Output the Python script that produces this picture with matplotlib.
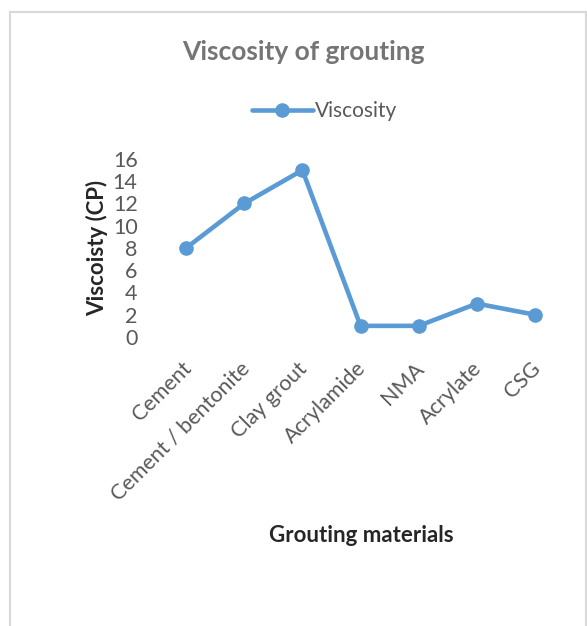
import matplotlib.pyplot as plt
from matplotlib.lines import Line2D
from matplotlib.transforms import ScaledTranslation

# Viscosity of the grouting materials (CP)
materials = ["Cement", "Cement / bentonite", "Clay grout", "Acrylamide",
             "NMA", "Acrylate", "CSG"]
viscosity = [8, 12, 15, 1, 1, 3, 2]
yticks = [0, 2, 4, 6, 8, 10, 12, 14, 16]

plt.rcParams['font.family'] = ['Lato', 'DejaVu Sans']

fig = plt.figure(figsize=(5.87, 6.26), dpi=100)
ax = fig.add_axes([0.2675, 0.4617, 0.6935, 0.2843])

xs = list(range(len(materials)))
ax.plot(xs, viscosity, color='#5B9BD5', linewidth=3.3, marker='o',
        markersize=9.5, label='Viscosity', solid_capstyle='round',
        solid_joinstyle='round')

ax.set_xlim(-0.5, len(materials) - 0.5)
ax.set_ylim(0, 16)
ax.set_yticks(yticks)
ax.set_yticklabels([str(v) for v in yticks], fontsize=15.5, color='#595959')
ax.set_xticks(xs)
ax.set_xticklabels(materials, rotation=45, ha='right', va='top',
                   rotation_mode='anchor', fontsize=15.5, color='#595959')
ax.tick_params(length=0, axis='y', pad=14)
ax.tick_params(length=0, axis='x', pad=14)
# nudge the slanted category labels a little to the left
shift = ScaledTranslation(-5 / 100, -2 / 100, fig.dpi_scale_trans)
for lab in ax.get_xticklabels():
    lab.set_transform(lab.get_transform() + shift)
for side in ax.spines.values():
    side.set_visible(False)

ax.set_ylabel('Viscoisty (CP)', fontsize=16, fontweight='bold',
              color='#262626', labelpad=3)
fig.text(0.615, 0.145, 'Grouting materials', ha='center', va='center',
         fontsize=16, fontweight='bold', color='#262626')

fig.text(0.516, 0.917, 'Viscosity of grouting', ha='center', va='center',
         fontsize=19, fontweight='bold', color='#757575')

leg = fig.legend(loc='center', bbox_to_anchor=(0.553, 0.822), frameon=False,
                 fontsize=15, handlelength=2.9, handletextpad=0.1)
for txt in leg.get_texts():
    txt.set_color('#595959')

# chart frame (open at the bottom)
frame = dict(color='#d9d9d9', linewidth=1.5, transform=fig.transFigure)
fig.add_artist(Line2D([10 / 587, 10 / 587], [0, 1 - 12 / 626], **frame))
fig.add_artist(Line2D([10 / 587, 586 / 587], [1 - 12 / 626, 1 - 12 / 626], **frame))
fig.add_artist(Line2D([586 / 587, 586 / 587], [0, 1 - 12 / 626], **frame))

fig.savefig('out.png', dpi=100)
